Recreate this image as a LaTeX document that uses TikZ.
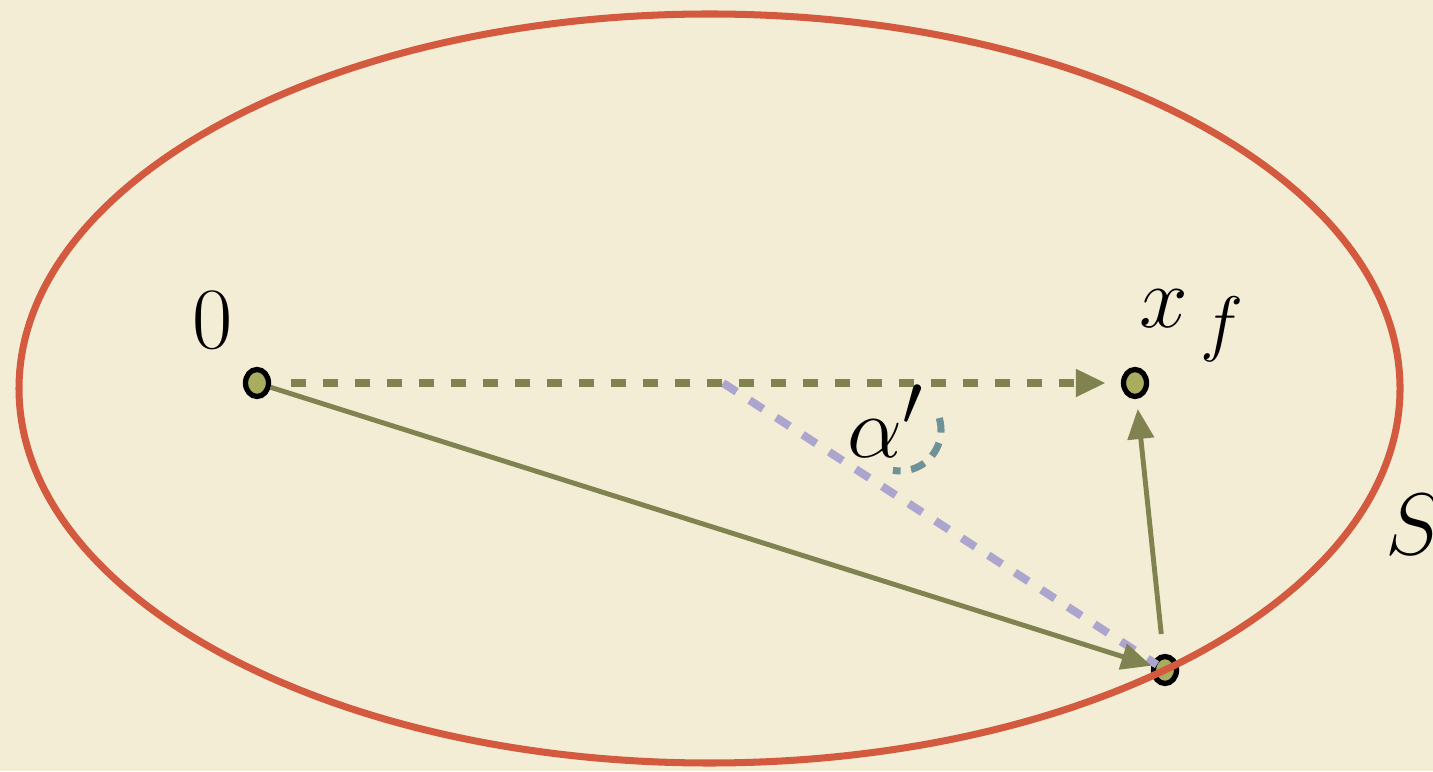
\documentclass[tikz,border=0pt]{standalone}
\usepackage{amsmath}
\usepackage{xcolor}
\usepackage{tikz}
\usetikzlibrary{positioning, shapes.geometric, arrows.meta, calc}
\definecolor{fondcreme}{RGB}{243, 237, 214}
\definecolor{rougeellipse}{RGB}{211, 90, 62}
\definecolor{olivefonce}{RGB}{128, 130, 80}
\definecolor{oliveclair}{RGB}{168, 173, 96}
\definecolor{lavande}{RGB}{172, 165, 206}
\definecolor{bleugris}{RGB}{110, 146, 152}

\begin{document}
\begin{tikzpicture}[font=\fontsize{28}{33}\selectfont,
    point/.style={ellipse, draw=black, fill=oliveclair, line width=1.5pt, minimum width=0.23cm, minimum height=0.27cm, inner sep=0pt},
    fleche/.style={-{Triangle[length=0.30cm, width=0.26cm]}, olivefonce, line width=1.4pt}]
    % fond
    \fill[fondcreme] (0,0) rectangle (14.33,7.71);
    \useasboundingbox (0,0) rectangle (14.33,7.71);
    % points
    \node[point] (origine) at (2.57,3.88) {};
    \node[point] (cible) at (11.35,3.88) {};
    \node[point] (bord) at (11.65,1.01) {};
    \coordinate (milieu) at (7.23,3.88);
    % lignes
    \draw[lavande, line width=2.3pt, dash pattern=on 4.6pt off 4.4pt, shorten >=-0.05cm] (milieu) -- (bord);
    \draw[fleche, line width=2.3pt, dash pattern=on 4.3pt off 4.8pt, shorten <=0.2cm, shorten >=0.15cm] (origine) -- (cible);
    \draw[fleche] (origine) -- (bord);
    \draw[fleche, shorten <=0.2cm, shorten >=0.1cm] (bord) -- (cible);
    \draw[bleugris, line width=2pt, dash pattern=on 4.2pt off 3pt] (9.00,3.41) ++(17:0.41) arc (17:-100:0.41);
    % ensemble S
    \draw[rougeellipse, line width=2pt] (7.095,3.825) ellipse (6.905 and 3.745);
    % textes
    \node (etiqorigine) at (2.13,4.51) {\fontsize{26}{30}\selectfont $0$};
    \node (etiqcible) at (11.92,4.45) {$x_{\,f}$};
    \node (etiqangle) at (8.86,3.50) {$\alpha'$};
    \node (etiqS) at (14.14,2.46) {$S$};
\end{tikzpicture}
\end{document}
